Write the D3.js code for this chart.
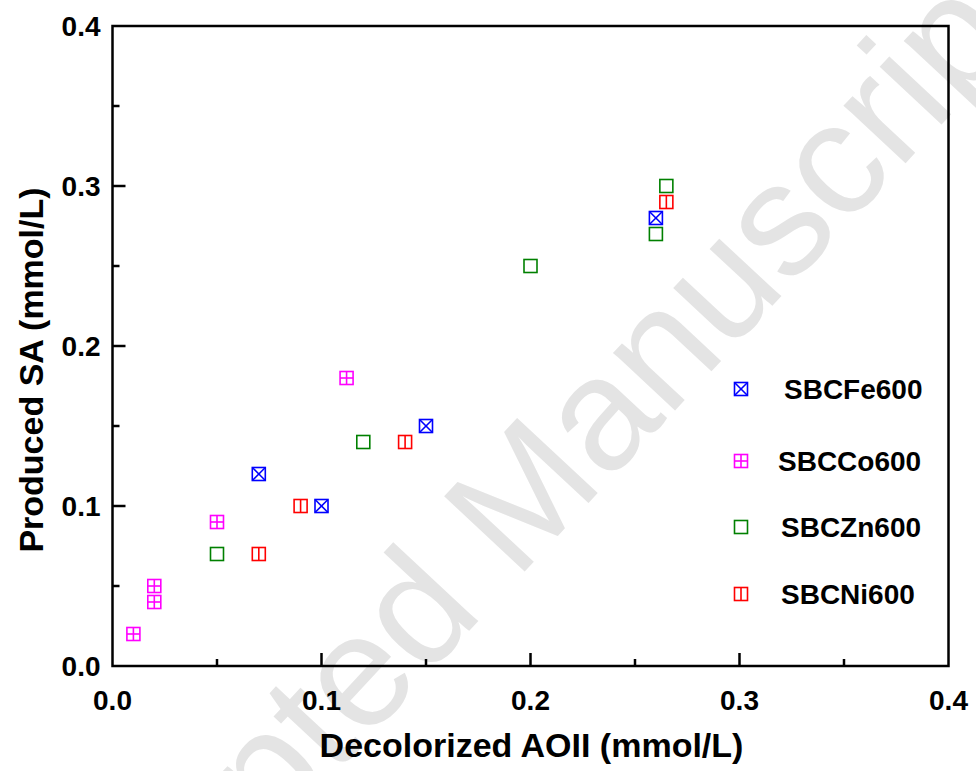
<!DOCTYPE html>
<html><head><meta charset="utf-8">
<script src="https://cdn.jsdelivr.net/npm/d3@7"></script>
<style>body{margin:0;background:#fff}svg{display:block}</style>
</head><body>
<script>
const seriesNames = ["SBCFe600","SBCCo600","SBCZn600","SBCNi600"];
const seriesColors = ["#0000ff","#ff00ff","#008000","#ff0000"];
const seriesShapes = ["cross","grid","plain","split"];
const feX = [0.07,0.10,0.15,0.26];
const feY = [0.12,0.10,0.15,0.28];
const coX = [0.01,0.02,0.02,0.05,0.112];
const coY = [0.02,0.04,0.05,0.09,0.18];
const znX = [0.05,0.12,0.20,0.26,0.265];
const znY = [0.07,0.14,0.25,0.27,0.30];
const niX = [0.07,0.09,0.14,0.265];
const niY = [0.07,0.10,0.14,0.29];
const xTicks = [0.0,0.1,0.2,0.3,0.4];
const yTicks = [0.0,0.1,0.2,0.3,0.4];
const xTitle = "Decolorized AOII (mmol/L)";
const yTitle = "Produced SA (mmol/L)";
const watermark = "Accepted Manuscript";

const W=976,H=771;
const svg=d3.select("body").append("svg").attr("width",W).attr("height",H);
const font="'Liberation Sans', Arial, sans-serif";

// watermark
svg.append("text").attr("x",0).attr("y",0)
  .attr("transform","translate(540,555) rotate(-47)")
  .attr("text-anchor","middle").attr("font-family",font).attr("font-size",160)
  .attr("fill","#e4e4e4").text(watermark);

const x=d3.scaleLinear().domain([0,0.4]).range([112.5,948.5]);
const y=d3.scaleLinear().domain([0,0.4]).range([666,26]);

const g=svg.append("g");
g.append("rect").attr("x",x(0)).attr("y",y(0.4)).attr("width",x(0.4)-x(0)).attr("height",y(0)-y(0.4))
 .attr("fill","none").attr("stroke","#000").attr("stroke-width",2.5);

const minor=d3.range(0.05,0.4,0.1).map(v=>+v.toFixed(2));
g.selectAll(".xt").data(xTicks.slice(1,-1)).join("line").attr("x1",d=>x(d)).attr("x2",d=>x(d))
 .attr("y1",y(0)).attr("y2",y(0)-13).attr("stroke","#000").attr("stroke-width",2.5);
g.selectAll(".xm").data(minor).join("line").attr("x1",d=>x(d)).attr("x2",d=>x(d))
 .attr("y1",y(0)).attr("y2",y(0)-7).attr("stroke","#000").attr("stroke-width",2.5);
g.selectAll(".yt").data(yTicks.slice(1,-1)).join("line").attr("y1",d=>y(d)).attr("y2",d=>y(d))
 .attr("x1",x(0)).attr("x2",x(0)+13).attr("stroke","#000").attr("stroke-width",2.5);
g.selectAll(".ym").data(minor).join("line").attr("y1",d=>y(d)).attr("y2",d=>y(d))
 .attr("x1",x(0)).attr("x2",x(0)+7).attr("stroke","#000").attr("stroke-width",2.5);

g.selectAll(".xl").data(xTicks).join("text").attr("x",d=>x(d)).attr("y",y(0)+44)
 .attr("text-anchor","middle").attr("font-family",font).attr("font-weight","bold").attr("font-size",28)
 .text(d=>d.toFixed(1));
g.selectAll(".yl").data(yTicks).join("text").attr("x",x(0)-12).attr("y",d=>y(d)+10)
 .attr("text-anchor","end").attr("font-family",font).attr("font-weight","bold").attr("font-size",28)
 .text(d=>d.toFixed(1));

svg.append("text").attr("x",(x(0)+x(0.4))/2 + 1).attr("y",757).attr("text-anchor","middle")
 .attr("font-family",font).attr("font-weight","bold").attr("font-size",34).text(xTitle);
svg.append("text").attr("transform",`translate(43,${(y(0)+y(0.4))/2+24}) rotate(-90)`).attr("text-anchor","middle")
 .attr("font-family",font).attr("font-weight","bold").attr("font-size",34).text(yTitle);

function marker(sel,cx,cy,shape,color){
  const s=6.5;
  const m=sel.append("g").attr("stroke",color).attr("stroke-width",1.6).attr("fill","none");
  m.append("rect").attr("x",cx-s).attr("y",cy-s).attr("width",2*s).attr("height",2*s);
  if(shape==="cross"){
    m.append("line").attr("x1",cx-s).attr("y1",cy-s).attr("x2",cx+s).attr("y2",cy+s);
    m.append("line").attr("x1",cx-s).attr("y1",cy+s).attr("x2",cx+s).attr("y2",cy-s);
  } else if(shape==="grid"){
    m.append("line").attr("x1",cx).attr("y1",cy-s).attr("x2",cx).attr("y2",cy+s);
    m.append("line").attr("x1",cx-s).attr("y1",cy).attr("x2",cx+s).attr("y2",cy);
  } else if(shape==="split"){
    m.append("line").attr("x1",cx).attr("y1",cy-s).attr("x2",cx).attr("y2",cy+s);
  }
}
const sets=[[feX,feY],[coX,coY],[znX,znY],[niX,niY]];
sets.forEach(([xs,ys],i)=>{
  xs.forEach((v,j)=>marker(g,x(v),y(ys[j]),seriesShapes[i],seriesColors[i]));
});

const legY=[389,461,527,594];
const legTX=[784,778,781,781];
seriesNames.forEach((n,i)=>{
  marker(svg,741,legY[i],seriesShapes[i],seriesColors[i]);
  svg.append("text").attr("x",legTX[i]).attr("y",legY[i]+10).attr("font-family",font)
   .attr("font-weight","bold").attr("font-size",28).text(n);
});
</script>
</body></html>
